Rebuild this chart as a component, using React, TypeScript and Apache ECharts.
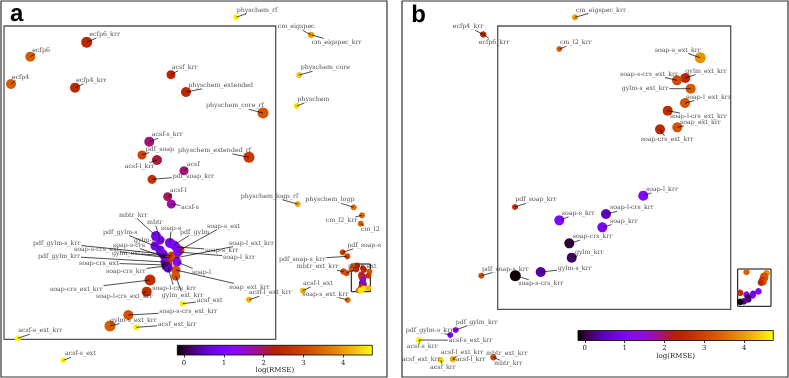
import React, { useEffect, useRef } from "react";
import * as echarts from "echarts";

// ---------------- Panel a : main axes (points outside the zoomed box) ----------------
const aOuterNames = ["physchem_rf", "cm_eigspec", "cm_eigspec_krr", "physchem_core", "physchem", "physchem_logp_rf", "physchem_logp", "cm_l2_krr", "cm_l2", "pdf_soap-s", "pdf_soap-s_krr", "mbtr_ext_krr", "mbtr_ext", "acsf-l_ext", "soap-s_ext_krr", "acsf-s_ext_krr", "acsf-s_ext"];
const aOuterX = [236, 310.7, 311.5, 299.3, 296.7, 297.7, 353.7, 362, 360.7, 342.7, 347.3, 343.5, 346.5, 303, 347.7, 17.7, 63.3];
const aOuterY = [17.3, 34.7, 35, 75, 106, 204, 207.3, 215.3, 223.7, 252.3, 256.3, 271.5, 273, 290.7, 300, 338.3, 360.3];
const aOuterLogRmse = [4.7, 4.0, 4.0, 4.3, 4.5, 4.1, 3.55, 3.4, 3.4, 2.95, 2.95, 3.0, 3.1, 4.15, 3.5, 4.7, 4.7];
const aOuterWeight = [6, 6, 6, 6, 6, 6, 6, 6, 6, 6, 6, 6.5, 6.5, 6, 6, 6, 6];
const aOuterLabelDx = [0.7, -33, 0.2, 1.4, 0.6, -57, -48.4, -36.3, 0.3, 4.6, -68.3, -46.8, 1.5, 0, -45.4, 0.6, 1.7];
const aOuterLabelDy = [-7.3, -8, 7, -7.3, -6.7, -7.7, -7.6, 5.4, 5.6, -7, 3, -4.8, -6.7, -7.4, -6, -7.6, -6.6];

// ---------------- Panel a : zoomed region (inset) ----------------
const aZoomNames = ["ecfp6_krr", "ecfp6", "ecfp4", "ecfp4_krr", "acsf_krr", "physchem_extended", "physchem_core_rf", "acsf-s_krr", "pdf_soap", "acsf-l_krr", "physchem_extended_rf", "acsf", "pdf_soap_krr", "acsf-l", "acsf-s",
  "mbtr_krr", "mbtr", "soap-s", "pdf_gylm", "pdf_gylm-s", "gylm-s_krr", "pdf_gylm-s_krr", "soap-s-crs", "soap-s-crs_ext", "gylm_ext", "pdf_gylm_krr", "soap-crs_ext", "soap-crs_krr", "soap-s_ext", "soap-l_ext_krr", "soap-s_krr", "soap-l_krr", "soap-l", "soap_ext_krr", "gylm_ext_krr", "soap-l-crs_krr",
  "soap-crs_ext_krr", "soap-l-crs_ext_krr", "soap-s-crs_ext_krr", "gylm-s_ext_krr", "acsf_ext_krr", "acsf_ext", "acsf-l_ext_krr"];
const aZoomX = [86.7, 30.3, 11, 75, 171, 186, 263, 149.3, 142, 157, 249, 184, 152, 167.7, 171.3,
  156, 160, 170, 174, 155, 160, 163, 165, 170, 172, 165, 168, 166, 180, 175, 176, 178, 177, 176, 175.7, 168,
  150, 146.7, 128.3, 110, 136.3, 182.7, 249];
const aZoomY = [42.3, 56.7, 84, 87.7, 74.7, 92, 113, 141.7, 155, 160, 157.3, 170.7, 179.3, 196.7, 204,
  236, 240, 243, 245, 246, 250, 254, 257, 258, 256, 262, 265, 266, 250, 258, 247, 252, 262, 270, 276, 268,
  280, 291.7, 315, 326, 327.3, 303.7, 299.7];
const aZoomLogRmse = [2.5, 3.3, 3.3, 2.5, 2.4, 2.5, 3.2, 1.9, 3.0, 2.1, 2.8, 1.9, 2.7, 2.0, 1.7,
  1.0, 1.0, 1.0, 1.1, 1.0, 0.8, 1.0, 0.4, 3.0, 2.8, 1.0, 2.5, 0.1, 3.2, 3.0, 1.0, 1.1, 1.2, 3.2, 3.2, 0.5,
  2.6, 2.6, 3.2, 3.35, 4.6, 4.6, 4.2];
const aZoomWeight = [11, 10, 10, 10, 9, 10, 11, 10, 9, 10, 11, 9, 9, 9, 9,
  10, 9, 10, 9, 9, 9, 9, 9, 9, 9, 9, 9, 9, 9, 9, 9, 9, 9, 9, 9, 9,
  11, 10, 10, 11, 6, 6, 6];
const aZoomLabelDx = [2.6, 2, 0.7, 1, 0.7, 2.3, -57, 2.4, 3.7, -32.3, -71, 2.7, 20.7, 2.3, 9.7,
  -37, -13, -9, 6, -52, -26, -130, -52, -96, -60, -127, -89, -60, 27, 54, 29, 45, 15, 53, -14, -15.7,
  -100, -50.7, 31, 0, 21.4, 14, 0];
const aZoomLabelDy = [-8, -6.7, -7, -7.4, -7.7, -6.7, -7.3, -7, -6, 6.3, -7, -6.4, -3.3, -6, 3,
  -21, -18, -15, -13, -14, -10, -11, -12, -9, -3, -6, -2, 5, -24, -15, 3, 5, 10, 17, 19, 20.3,
  9, 4.3, -3.3, -6, -3, -3.4, -7];

// ---------------- Panel b : main axes ----------------
const bOuterNames = ["ecfp4_krr", "ecfp6_krr", "cm_eigspec_krr", "pdf_soap-s_krr", "pdf_gylm_krr", "pdf_gylm-s_krr", "acsf-s_krr", "acsf-s_ext_krr", "acsf_ext_krr", "acsf_krr", "acsf-l_ext_krr", "acsf-l_krr", "mbtr_ext_krr", "mbtr_krr"];
const bOuterX = [483, 483.5, 575, 481.3, 455.7, 450.3, 418.7, 419, 440.7, 440.9, 452.7, 452.9, 493.3, 493.5];
const bOuterY = [34.3, 34.5, 17.3, 275.7, 330, 335, 340, 340, 360, 360.2, 359, 359.2, 357.3, 357.5];
const bOuterLogRmse = [2.5, 2.5, 4.0, 3.1, 1.05, 1.05, 4.7, 4.7, 4.5, 4.5, 4.1, 4.1, 3.1, 3.1];
const bOuterWeight = [6, 6, 6, 6, 6, 6, 6, 6, 6, 6, 6, 6, 6, 6];
const bOuterLabelDx = [-30.3, -4.8, 1, 0.7, 0, -44.6, -12, 29.7, -39, -11, -12, 2.8, -7.3, 0.5];
const bOuterLabelDy = [-7.6, 7.5, -7.3, -6.7, -7.7, -5, 6, 0.3, -0.7, 6.8, -6.3, 0, -4.3, 6.2];

// ---------------- Panel b : zoomed region (inset) ----------------
const bZoomNames = ["cm_l2_krr", "soap-s_ext_krr", "gylm_ext_krr", "soap-s-crs_ext_krr", "gylm-s_ext_krr", "soap-l_ext_krr", "soap-l-crs_ext_krr", "soap_ext_krr", "soap-crs_ext_krr", "soap-l_krr", "soap-l-crs_krr", "pdf_soap_krr", "soap-s_krr", "soap_krr", "soap-crs_krr", "gylm_krr", "gylm-s_krr", "soap-s-crs_krr"];
const bZoomX = [559.3, 700.3, 685.3, 677, 690.7, 685, 667.7, 677.3, 660, 643.3, 606, 515, 559.3, 602.3, 569.3, 571.7, 540.7, 515.3];
const bZoomY = [49, 57.7, 78, 80.3, 88.7, 103, 110.7, 127.3, 129.3, 195.7, 214, 207, 220.3, 227.3, 243.3, 257.7, 272, 275.7];
const bZoomLogRmse = [3.4, 3.9, 2.5, 3.1, 3.3, 3.2, 2.6, 3.2, 2.5, 1.1, 0.5, 2.6, 1.1, 1.05, 0.0, 0.15, 0.35, -0.15];
const bZoomWeight = [6, 11, 10, 10, 10, 10, 10, 10, 10, 10, 10, 6, 10, 10, 10, 10, 10, 11];
const bZoomLabelDx = [0.7, -45.6, 0, -57, -69, 1, 2.3, 2.7, -19.3, 2.7, 4, 0.3, 2.4, 7.7, 3.4, 3.3, 17, 3];
const bZoomLabelDy = [-6.3, -7.7, -7, -6.3, 0, -6, 6, -5, 10.4, -6.4, -6.3, -7.3, -7, -6.3, -6.6, -5.4, -3.7, 7.6];

// ---------------- colour bar ----------------
const cbarMin = -0.17;
const cbarMax = 4.73;
const cbarTicks = [0, 1, 2, 3, 4];

const FONT = "DejaVu Serif";
const FS = 6.3;
const TEXT_COLOR = "#1a1a1a";

function gnuplot(t: number): string {
  const u = Math.max(0, Math.min(1, t));
  const r = Math.sqrt(u);
  const g = u * u * u;
  const b = Math.max(0, Math.sin(2 * Math.PI * u));
  const h = (c: number) => Math.round(c * 255).toString(16).padStart(2, "0");
  return "#" + h(r) + h(g) + h(b);
}
const colorOf = (v: number) => gnuplot((v - cbarMin) / (cbarMax - cbarMin));

let measureCtx: CanvasRenderingContext2D | null = null;
function textWidth(s: string): number {
  if (!measureCtx) {
    measureCtx = document.createElement("canvas").getContext("2d");
  }
  if (!measureCtx) return s.length * 3.8;
  measureCtx.font = `${FS}px "${FONT}"`;
  return measureCtx.measureText(s).width;
}

type PointSet = { names: string[]; x: number[]; y: number[]; v: number[]; w: number[]; dx: number[]; dy: number[] };

function dotSeries(set: PointSet, axis: number, sizeOverride?: number): any {
  return {
    type: "scatter",
    xAxisIndex: axis,
    yAxisIndex: axis,
    z: 3,
    symbol: "circle",
    symbolSize: (val: number[]) => (sizeOverride ? sizeOverride : val[3]),
    itemStyle: { color: (p: any) => colorOf(p.value[2]), opacity: 1 },
    silent: true,
    clip: false,
    data: set.x.map((xv, i) => [xv, set.y[i], set.v[i], set.w[i]]),
  };
}

// leader lines from each dot to its (displaced) label
function leaderSeries(set: PointSet, axis: number): any {
  return {
    type: "custom",
    xAxisIndex: axis,
    yAxisIndex: axis,
    z: 4,
    silent: true,
    clip: false,
    data: set.x.map((xv, i) => [xv, set.y[i], i]),
    renderItem: (params: any, api: any) => {
      const i = api.value(2);
      const p = api.coord([api.value(0), api.value(1)]);
      const lx = p[0] + set.dx[i];
      const ly = p[1] + set.dy[i];
      const w = textWidth(set.names[i]);
      const cx = lx + w / 2;
      const cy = ly;
      const x0 = lx - 0.8, x1 = lx + w + 0.8, y0 = ly - 3.6, y1 = ly + 3.6;
      const ddx = p[0] - cx, ddy = p[1] - cy;
      let t = Infinity;
      if (ddx > 0) t = Math.min(t, (x1 - cx) / ddx);
      if (ddx < 0) t = Math.min(t, (x0 - cx) / ddx);
      if (ddy > 0) t = Math.min(t, (y1 - cy) / ddy);
      if (ddy < 0) t = Math.min(t, (y0 - cy) / ddy);
      const children: any[] = [];
      if (t < 1) {
        const ex = cx + ddx * t, ey = cy + ddy * t;
        if (Math.hypot(ex - p[0], ey - p[1]) > 1.5) {
          children.push({
            type: "line",
            shape: { x1: p[0], y1: p[1], x2: ex, y2: ey },
            style: { stroke: "#000", lineWidth: 0.7, fill: null },
          });
        }
      }
      return { type: "group", children };
    },
  };
}

// text labels, placed through scatter labels on invisible symbols
function textSeries(set: PointSet, axis: number): any {
  return {
    type: "scatter",
    xAxisIndex: axis,
    yAxisIndex: axis,
    z: 6,
    symbol: "circle",
    symbolSize: 1,
    silent: true,
    clip: false,
    itemStyle: { color: "rgba(0,0,0,0)" },
    labelLayout: { hideOverlap: false },
    label: {
      show: true,
      formatter: (p: any) => set.names[p.dataIndex],
      color: TEXT_COLOR,
      fontSize: FS,
      fontFamily: FONT,
      align: "left",
      verticalAlign: "middle",
    },
    data: set.x.map((xv, i) => ({
      value: [xv, set.y[i]],
      label: { position: [set.dx[i] + 0.5, set.dy[i] + 0.5] },
    })),
  };
}

const aOuter: PointSet = { names: aOuterNames, x: aOuterX, y: aOuterY, v: aOuterLogRmse, w: aOuterWeight, dx: aOuterLabelDx, dy: aOuterLabelDy };
const aZoom: PointSet = { names: aZoomNames, x: aZoomX, y: aZoomY, v: aZoomLogRmse, w: aZoomWeight, dx: aZoomLabelDx, dy: aZoomLabelDy };
const bOuter: PointSet = { names: bOuterNames, x: bOuterX, y: bOuterY, v: bOuterLogRmse, w: bOuterWeight, dx: bOuterLabelDx, dy: bOuterLabelDy };
const bZoom: PointSet = { names: bZoomNames, x: bZoomX, y: bZoomY, v: bZoomLogRmse, w: bZoomWeight, dx: bZoomLabelDx, dy: bZoomLabelDy };

function hiddenAxis(grid: number, min: number, max: number, inverse: boolean): any {
  return { type: "value", gridIndex: grid, min, max, inverse, show: false, splitLine: { show: false } };
}

function cbarGradient(): any {
  const stops = [];
  for (let k = 0; k <= 40; k++) stops.push({ offset: k / 40, color: gnuplot(k / 40) });
  return { type: "linear", x: 0, y: 0, x2: 1, y2: 0, colorStops: stops };
}

function cbarXAxis(grid: number, gap: number): any {
  return {
    type: "value", gridIndex: grid, min: cbarMin, max: cbarMax, position: "bottom",
    axisLine: { show: false },
    axisTick: { show: true, customValues: cbarTicks, length: 2.5, lineStyle: { color: "#000", width: 0.8 } },
    axisLabel: { show: true, customValues: cbarTicks, fontSize: 7, fontFamily: FONT, color: "#222", margin: 4 },
    splitLine: { show: false },
    name: "log(RMSE)", nameLocation: "middle", nameGap: gap,
    nameTextStyle: { fontSize: 7, fontFamily: FONT, color: "#222" },
  };
}

export default function App() {
  const ref = useRef<HTMLDivElement>(null);
  useEffect(() => {
    const styleEl = document.createElement("style");
    styleEl.textContent = "#chart-host svg text { opacity: 0.995; text-rendering: geometricPrecision; }";
    document.head.appendChild(styleEl);
    if (!ref.current) return;
    const chart = echarts.init(ref.current, undefined, { renderer: "svg" });
    const grids = [
      { left: 1, top: 1, width: 386, height: 376, show: true, borderColor: "#333", borderWidth: 1.2, backgroundColor: "#fff" }, // 0 a main
      { left: 4, top: 26, width: 271.7, height: 313.3, show: true, borderColor: "#555", borderWidth: 1.3, backgroundColor: "#fff" }, // 1 a inset
      { left: 351.3, top: 264, width: 19, height: 27.7, show: true, borderColor: "#000", borderWidth: 1, backgroundColor: "transparent" }, // 2 a box
      { left: 402, top: 1, width: 386, height: 376, show: true, borderColor: "#333", borderWidth: 1.2, backgroundColor: "#fff" }, // 3 b main
      { left: 497.7, top: 26, width: 233, height: 283.3, show: true, borderColor: "#555", borderWidth: 1.3, backgroundColor: "#fff" }, // 4 b inset
      { left: 737.7, top: 269, width: 33.3, height: 37.3, show: true, borderColor: "#000", borderWidth: 1, backgroundColor: "transparent" }, // 5 b box
      { left: 177.3, top: 345.3, width: 195, height: 9.7, show: true, borderColor: "#000", borderWidth: 0.8, backgroundColor: cbarGradient() }, // 6 a cbar
      { left: 578, top: 330.5, width: 195.3, height: 10, show: true, borderColor: "#000", borderWidth: 0.8, backgroundColor: cbarGradient() }, // 7 b cbar
    ];
    const xAxis = [
      hiddenAxis(0, 1, 387, false),
      hiddenAxis(1, 4, 275.7, false),
      hiddenAxis(2, 4, 275.7, false),
      hiddenAxis(3, 402, 788, false),
      hiddenAxis(4, 497.7, 730.7, false),
      hiddenAxis(5, 497.7, 730.7, false),
      cbarXAxis(6, 11),
      cbarXAxis(7, 10),
    ];
    const yAxis = [
      hiddenAxis(0, 1, 377, true),
      hiddenAxis(1, 26, 339.3, true),
      hiddenAxis(2, 26, 339.3, true),
      hiddenAxis(3, 1, 377, true),
      hiddenAxis(4, 26, 309.3, true),
      hiddenAxis(5, 26, 309.3, true),
      hiddenAxis(6, 0, 1, false),
      hiddenAxis(7, 0, 1, false),
    ];
    const series = [
      dotSeries(aOuter, 0), leaderSeries(aOuter, 0), textSeries(aOuter, 0),
      dotSeries(aZoom, 1), leaderSeries(aZoom, 1), textSeries(aZoom, 1),
      dotSeries(aZoom, 2, 6),
      dotSeries(bOuter, 3), leaderSeries(bOuter, 3), textSeries(bOuter, 3),
      dotSeries(bZoom, 4), leaderSeries(bZoom, 4), textSeries(bZoom, 4),
      dotSeries(bZoom, 5, 6.5),
    ];
    chart.setOption({
      animation: false,
      backgroundColor: "#fff",
      grid: grids,
      xAxis,
      yAxis,
      series,
      graphic: [
        { type: "text", x: 10, y: 13, style: { text: "a", fontSize: 24, fontWeight: "bold", fontFamily: "Liberation Sans", fill: "#000", verticalAlign: "middle" } },
        { type: "text", x: 411.3, y: 14.5, style: { text: "b", fontSize: 24, fontWeight: "bold", fontFamily: "Liberation Sans", fill: "#000", verticalAlign: "middle" } },
      ],
    });
    return () => {
      chart.dispose();
      styleEl.remove();
    };
  }, []);
  return <div id="chart-host" ref={ref} style={{ position: "fixed", left: 0, top: 0, width: 789, height: 378, willChange: "transform" }} />;
}
